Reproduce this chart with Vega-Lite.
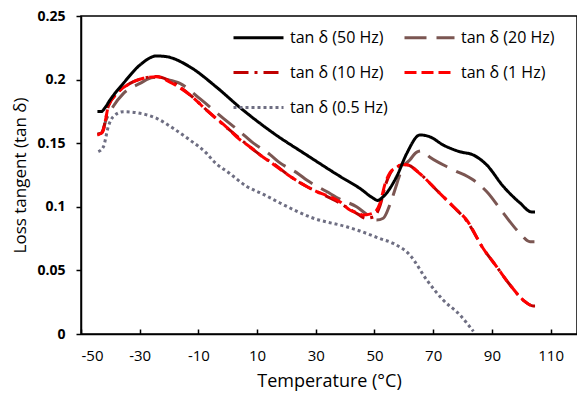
{
  "$schema": "https://vega.github.io/schema/vega-lite/v6.json",
  "width": 496,
  "height": 318,
  "autosize": {"type": "none"},
  "padding": {"left": 81, "top": 16, "right": 0, "bottom": 62},
  "background": "white",
  "config": {
    "font": "Open Sans",
    "view": {"stroke": "#000", "strokeWidth": 1.5}
  },
  "data": {
    "values": [
      {"s": "tan δ (0.5 Hz)", "t": -44.1, "v": 0.1433},
      {"s": "tan δ (0.5 Hz)", "t": -42.4, "v": 0.147},
      {"s": "tan δ (0.5 Hz)", "t": -40.7, "v": 0.163},
      {"s": "tan δ (0.5 Hz)", "t": -39, "v": 0.171},
      {"s": "tan δ (0.5 Hz)", "t": -35.6, "v": 0.1748},
      {"s": "tan δ (0.5 Hz)", "t": -29.9, "v": 0.1735},
      {"s": "tan δ (0.5 Hz)", "t": -24.2, "v": 0.1695},
      {"s": "tan δ (0.5 Hz)", "t": -18.6, "v": 0.1617},
      {"s": "tan δ (0.5 Hz)", "t": -12.9, "v": 0.1525},
      {"s": "tan δ (0.5 Hz)", "t": -7.2, "v": 0.142},
      {"s": "tan δ (0.5 Hz)", "t": -4.9, "v": 0.136},
      {"s": "tan δ (0.5 Hz)", "t": 0.8, "v": 0.126},
      {"s": "tan δ (0.5 Hz)", "t": 6.5, "v": 0.116},
      {"s": "tan δ (0.5 Hz)", "t": 12, "v": 0.11},
      {"s": "tan δ (0.5 Hz)", "t": 17.8, "v": 0.103},
      {"s": "tan δ (0.5 Hz)", "t": 29.2, "v": 0.091},
      {"s": "tan δ (0.5 Hz)", "t": 40.5, "v": 0.0843},
      {"s": "tan δ (0.5 Hz)", "t": 45, "v": 0.081},
      {"s": "tan δ (0.5 Hz)", "t": 51.9, "v": 0.075},
      {"s": "tan δ (0.5 Hz)", "t": 56.4, "v": 0.0712},
      {"s": "tan δ (0.5 Hz)", "t": 62.1, "v": 0.062},
      {"s": "tan δ (0.5 Hz)", "t": 67.8, "v": 0.0425},
      {"s": "tan δ (0.5 Hz)", "t": 73.4, "v": 0.0267},
      {"s": "tan δ (0.5 Hz)", "t": 79.1, "v": 0.015},
      {"s": "tan δ (0.5 Hz)", "t": 83.7, "v": 0.002},

      {"s": "tan δ (20 Hz)", "t": -44.4, "v": 0.157},
      {"s": "tan δ (20 Hz)", "t": -43, "v": 0.158},
      {"s": "tan δ (20 Hz)", "t": -41.5, "v": 0.168},
      {"s": "tan δ (20 Hz)", "t": -39, "v": 0.179},
      {"s": "tan δ (20 Hz)", "t": -35.6, "v": 0.189},
      {"s": "tan δ (20 Hz)", "t": -29.9, "v": 0.197},
      {"s": "tan δ (20 Hz)", "t": -25.4, "v": 0.2016},
      {"s": "tan δ (20 Hz)", "t": -20.8, "v": 0.2},
      {"s": "tan δ (20 Hz)", "t": -16.3, "v": 0.197},
      {"s": "tan δ (20 Hz)", "t": -9.5, "v": 0.185},
      {"s": "tan δ (20 Hz)", "t": -1.5, "v": 0.1695},
      {"s": "tan δ (20 Hz)", "t": 4.2, "v": 0.159},
      {"s": "tan δ (20 Hz)", "t": 8.2, "v": 0.151},
      {"s": "tan δ (20 Hz)", "t": 14.4, "v": 0.141},
      {"s": "tan δ (20 Hz)", "t": 17.2, "v": 0.1355},
      {"s": "tan δ (20 Hz)", "t": 24, "v": 0.126},
      {"s": "tan δ (20 Hz)", "t": 26.9, "v": 0.121},
      {"s": "tan δ (20 Hz)", "t": 33.7, "v": 0.112},
      {"s": "tan δ (20 Hz)", "t": 38.2, "v": 0.106},
      {"s": "tan δ (20 Hz)", "t": 43.9, "v": 0.1},
      {"s": "tan δ (20 Hz)", "t": 48, "v": 0.093},
      {"s": "tan δ (20 Hz)", "t": 50.7, "v": 0.0896},
      {"s": "tan δ (20 Hz)", "t": 53, "v": 0.091},
      {"s": "tan δ (20 Hz)", "t": 55.3, "v": 0.102},
      {"s": "tan δ (20 Hz)", "t": 57.6, "v": 0.118},
      {"s": "tan δ (20 Hz)", "t": 59.2, "v": 0.129},
      {"s": "tan δ (20 Hz)", "t": 62.1, "v": 0.137},
      {"s": "tan δ (20 Hz)", "t": 64.4, "v": 0.143},
      {"s": "tan δ (20 Hz)", "t": 66, "v": 0.144},
      {"s": "tan δ (20 Hz)", "t": 68.9, "v": 0.139},
      {"s": "tan δ (20 Hz)", "t": 76.9, "v": 0.129},
      {"s": "tan δ (20 Hz)", "t": 83.7, "v": 0.121},
      {"s": "tan δ (20 Hz)", "t": 88.2, "v": 0.112},
      {"s": "tan δ (20 Hz)", "t": 93.9, "v": 0.095},
      {"s": "tan δ (20 Hz)", "t": 99.6, "v": 0.079},
      {"s": "tan δ (20 Hz)", "t": 103, "v": 0.0726},
      {"s": "tan δ (20 Hz)", "t": 104.5, "v": 0.0726},

      {"s": "tan δ (10 Hz)", "t": -44.4, "v": 0.157},
      {"s": "tan δ (10 Hz)", "t": -43, "v": 0.158},
      {"s": "tan δ (10 Hz)", "t": -42.4, "v": 0.161},
      {"s": "tan δ (10 Hz)", "t": -41.5, "v": 0.17},
      {"s": "tan δ (10 Hz)", "t": -40.7, "v": 0.179},
      {"s": "tan δ (10 Hz)", "t": -37.8, "v": 0.189},
      {"s": "tan δ (10 Hz)", "t": -33.3, "v": 0.197},
      {"s": "tan δ (10 Hz)", "t": -28.8, "v": 0.201},
      {"s": "tan δ (10 Hz)", "t": -24.2, "v": 0.2025},
      {"s": "tan δ (10 Hz)", "t": -19.7, "v": 0.199},
      {"s": "tan δ (10 Hz)", "t": -12.9, "v": 0.188},
      {"s": "tan δ (10 Hz)", "t": -7.2, "v": 0.176},
      {"s": "tan δ (10 Hz)", "t": 0.8, "v": 0.16},
      {"s": "tan δ (10 Hz)", "t": 7.6, "v": 0.147},
      {"s": "tan δ (10 Hz)", "t": 12.1, "v": 0.139},
      {"s": "tan δ (10 Hz)", "t": 15.5, "v": 0.134},
      {"s": "tan δ (10 Hz)", "t": 21.2, "v": 0.124},
      {"s": "tan δ (10 Hz)", "t": 26.9, "v": 0.116},
      {"s": "tan δ (10 Hz)", "t": 30.3, "v": 0.112},
      {"s": "tan δ (10 Hz)", "t": 34.8, "v": 0.107},
      {"s": "tan δ (10 Hz)", "t": 38.2, "v": 0.103},
      {"s": "tan δ (10 Hz)", "t": 41.6, "v": 0.098},
      {"s": "tan δ (10 Hz)", "t": 44.5, "v": 0.094},
      {"s": "tan δ (10 Hz)", "t": 47, "v": 0.091},
      {"s": "tan δ (10 Hz)", "t": 49.6, "v": 0.092},
      {"s": "tan δ (10 Hz)", "t": 51.9, "v": 0.101},
      {"s": "tan δ (10 Hz)", "t": 53.6, "v": 0.116},
      {"s": "tan δ (10 Hz)", "t": 55.3, "v": 0.126},
      {"s": "tan δ (10 Hz)", "t": 57.6, "v": 0.131},
      {"s": "tan δ (10 Hz)", "t": 59.2, "v": 0.133},
      {"s": "tan δ (10 Hz)", "t": 61, "v": 0.133},
      {"s": "tan δ (10 Hz)", "t": 65.5, "v": 0.126},
      {"s": "tan δ (10 Hz)", "t": 71.2, "v": 0.113},
      {"s": "tan δ (10 Hz)", "t": 76.9, "v": 0.1},
      {"s": "tan δ (10 Hz)", "t": 81.4, "v": 0.089},
      {"s": "tan δ (10 Hz)", "t": 87.1, "v": 0.067},
      {"s": "tan δ (10 Hz)", "t": 91.6, "v": 0.053},
      {"s": "tan δ (10 Hz)", "t": 96.2, "v": 0.0385},
      {"s": "tan δ (10 Hz)", "t": 100.7, "v": 0.0265},
      {"s": "tan δ (10 Hz)", "t": 104.1, "v": 0.022},
      {"s": "tan δ (10 Hz)", "t": 104.8, "v": 0.022},

      {"s": "tan δ (1 Hz)", "t": -44.4, "v": 0.1565},
      {"s": "tan δ (1 Hz)", "t": -43, "v": 0.158},
      {"s": "tan δ (1 Hz)", "t": -42.4, "v": 0.16},
      {"s": "tan δ (1 Hz)", "t": -41.5, "v": 0.17},
      {"s": "tan δ (1 Hz)", "t": -40.7, "v": 0.179},
      {"s": "tan δ (1 Hz)", "t": -37.8, "v": 0.189},
      {"s": "tan δ (1 Hz)", "t": -33.3, "v": 0.197},
      {"s": "tan δ (1 Hz)", "t": -28.8, "v": 0.201},
      {"s": "tan δ (1 Hz)", "t": -24.2, "v": 0.2023},
      {"s": "tan δ (1 Hz)", "t": -19.7, "v": 0.198},
      {"s": "tan δ (1 Hz)", "t": -12.9, "v": 0.188},
      {"s": "tan δ (1 Hz)", "t": -7.2, "v": 0.176},
      {"s": "tan δ (1 Hz)", "t": 0.8, "v": 0.16},
      {"s": "tan δ (1 Hz)", "t": 3, "v": 0.155},
      {"s": "tan δ (1 Hz)", "t": 7.6, "v": 0.147},
      {"s": "tan δ (1 Hz)", "t": 12.1, "v": 0.139},
      {"s": "tan δ (1 Hz)", "t": 15.5, "v": 0.1335},
      {"s": "tan δ (1 Hz)", "t": 21.2, "v": 0.124},
      {"s": "tan δ (1 Hz)", "t": 26.9, "v": 0.116},
      {"s": "tan δ (1 Hz)", "t": 30.3, "v": 0.112},
      {"s": "tan δ (1 Hz)", "t": 34.8, "v": 0.108},
      {"s": "tan δ (1 Hz)", "t": 38.2, "v": 0.104},
      {"s": "tan δ (1 Hz)", "t": 41.6, "v": 0.0975},
      {"s": "tan δ (1 Hz)", "t": 44.5, "v": 0.095},
      {"s": "tan δ (1 Hz)", "t": 46.2, "v": 0.0935},
      {"s": "tan δ (1 Hz)", "t": 49.6, "v": 0.095},
      {"s": "tan δ (1 Hz)", "t": 51.9, "v": 0.103},
      {"s": "tan δ (1 Hz)", "t": 53.6, "v": 0.118},
      {"s": "tan δ (1 Hz)", "t": 55.3, "v": 0.127},
      {"s": "tan δ (1 Hz)", "t": 57.6, "v": 0.131},
      {"s": "tan δ (1 Hz)", "t": 59.2, "v": 0.133},
      {"s": "tan δ (1 Hz)", "t": 61, "v": 0.133},
      {"s": "tan δ (1 Hz)", "t": 65.5, "v": 0.126},
      {"s": "tan δ (1 Hz)", "t": 71.2, "v": 0.113},
      {"s": "tan δ (1 Hz)", "t": 76.9, "v": 0.1},
      {"s": "tan δ (1 Hz)", "t": 81.4, "v": 0.0896},
      {"s": "tan δ (1 Hz)", "t": 87.1, "v": 0.067},
      {"s": "tan δ (1 Hz)", "t": 91.6, "v": 0.053},
      {"s": "tan δ (1 Hz)", "t": 96.2, "v": 0.0385},
      {"s": "tan δ (1 Hz)", "t": 100.7, "v": 0.0267},
      {"s": "tan δ (1 Hz)", "t": 104.1, "v": 0.022},
      {"s": "tan δ (1 Hz)", "t": 104.8, "v": 0.022},

      {"s": "tan δ (50 Hz)", "t": -44.4, "v": 0.175},
      {"s": "tan δ (50 Hz)", "t": -43, "v": 0.175},
      {"s": "tan δ (50 Hz)", "t": -41.8, "v": 0.178},
      {"s": "tan δ (50 Hz)", "t": -40.1, "v": 0.184},
      {"s": "tan δ (50 Hz)", "t": -35.6, "v": 0.197},
      {"s": "tan δ (50 Hz)", "t": -29.9, "v": 0.2115},
      {"s": "tan δ (50 Hz)", "t": -24.2, "v": 0.2186},
      {"s": "tan δ (50 Hz)", "t": -20.8, "v": 0.218},
      {"s": "tan δ (50 Hz)", "t": -12.9, "v": 0.21},
      {"s": "tan δ (50 Hz)", "t": -3.8, "v": 0.194},
      {"s": "tan δ (50 Hz)", "t": 4.2, "v": 0.178},
      {"s": "tan δ (50 Hz)", "t": 15.5, "v": 0.158},
      {"s": "tan δ (50 Hz)", "t": 26.9, "v": 0.1407},
      {"s": "tan δ (50 Hz)", "t": 38.2, "v": 0.124},
      {"s": "tan δ (50 Hz)", "t": 45, "v": 0.1145},
      {"s": "tan δ (50 Hz)", "t": 49.6, "v": 0.1067},
      {"s": "tan δ (50 Hz)", "t": 51, "v": 0.105},
      {"s": "tan δ (50 Hz)", "t": 53, "v": 0.108},
      {"s": "tan δ (50 Hz)", "t": 57.6, "v": 0.124},
      {"s": "tan δ (50 Hz)", "t": 61, "v": 0.142},
      {"s": "tan δ (50 Hz)", "t": 65.5, "v": 0.1565},
      {"s": "tan δ (50 Hz)", "t": 68.9, "v": 0.155},
      {"s": "tan δ (50 Hz)", "t": 73.4, "v": 0.1486},
      {"s": "tan δ (50 Hz)", "t": 79.1, "v": 0.1433},
      {"s": "tan δ (50 Hz)", "t": 83.7, "v": 0.1407},
      {"s": "tan δ (50 Hz)", "t": 88.2, "v": 0.133},
      {"s": "tan δ (50 Hz)", "t": 93.9, "v": 0.116},
      {"s": "tan δ (50 Hz)", "t": 99.6, "v": 0.103},
      {"s": "tan δ (50 Hz)", "t": 103.5, "v": 0.096},
      {"s": "tan δ (50 Hz)", "t": 104.7, "v": 0.096}
    ]
  },
  "mark": {"type": "line", "strokeWidth": 3, "strokeCap": "butt", "interpolate": "monotone", "clip": true},
  "encoding": {
    "x": {
      "field": "t",
      "type": "quantitative",
      "scale": {"domain": [-50, 119], "nice": false, "zero": false},
      "axis": {
        "values": [-50, -30, -10, 10, 30, 50, 70, 90, 110],
        "labelExpr": "'' + datum.value",
        "title": "Temperature (°C)",
        "grid": false,
        "domainColor": "#000",
        "domainWidth": 1.5,
        "tickColor": "#000",
        "tickWidth": 1.5,
        "tickSize": -5,
        "labelPadding": 19,
        "labelFontSize": 15,
        "labelColor": "#000",
        "labelFont": "Open Sans",
        "titleFont": "Open Sans",
        "titleFontSize": 18,
        "titleFontWeight": "normal",
        "titleColor": "#000",
        "titlePadding": 9
      }
    },
    "y": {
      "field": "v",
      "type": "quantitative",
      "scale": {"domain": [0, 0.25], "nice": false},
      "axis": {
        "values": [0, 0.05, 0.1, 0.15, 0.2, 0.25],
        "format": "~g",
        "title": "Loss tangent (tan δ)",
        "grid": false,
        "domainColor": "#000",
        "domainWidth": 1.5,
        "tickColor": "#000",
        "tickWidth": 1.5,
        "tickSize": 5,
        "labelPadding": 11,
        "labelFontSize": 14,
        "labelFontWeight": "bold",
        "labelColor": "#000",
        "labelFont": "Open Sans",
        "titleFont": "Open Sans",
        "titleFontSize": 17,
        "titleFontWeight": "normal",
        "titleColor": "#000",
        "titlePadding": 7
      }
    },
    "color": {
      "field": "s",
      "type": "nominal",
      "scale": {
        "domain": ["tan δ (50 Hz)", "tan δ (10 Hz)", "tan δ (0.5 Hz)", "tan δ (20 Hz)", "tan δ (1 Hz)"],
        "range": ["#000000", "#C00000", "#6E6E82", "#7B5652", "#FF0000"]
      },
      "legend": {
        "title": null,
        "orient": "none",
        "legendX": 151,
        "legendY": -5,
        "columns": 2,
        "symbolType": "stroke",
        "symbolSize": 2500,
        "symbolStrokeWidth": 3,
        "labelFontSize": 16,
        "labelFont": "Open Sans",
        "labelColor": "#000",
        "labelOffset": 5,
        "labelLimit": 300,
        "rowPadding": -16,
        "columnPadding": 10,
        "padding": 0
      }
    },
    "strokeDash": {
      "field": "s",
      "type": "nominal",
      "scale": {
        "domain": ["tan δ (50 Hz)", "tan δ (10 Hz)", "tan δ (0.5 Hz)", "tan δ (20 Hz)", "tan δ (1 Hz)"],
        "range": [[1, 0], [15, 6, 3, 6], [3, 3], [22, 10], [12, 5]]
      },
      "legend": {
        "title": null,
        "orient": "none",
        "legendX": 151,
        "legendY": -5,
        "columns": 2,
        "symbolType": "stroke",
        "symbolSize": 2500,
        "symbolStrokeWidth": 3,
        "labelFontSize": 16,
        "labelFont": "Open Sans",
        "labelColor": "#000",
        "labelOffset": 5,
        "labelLimit": 300,
        "rowPadding": -16,
        "columnPadding": 10,
        "padding": 0
      }
    }
  }
}
